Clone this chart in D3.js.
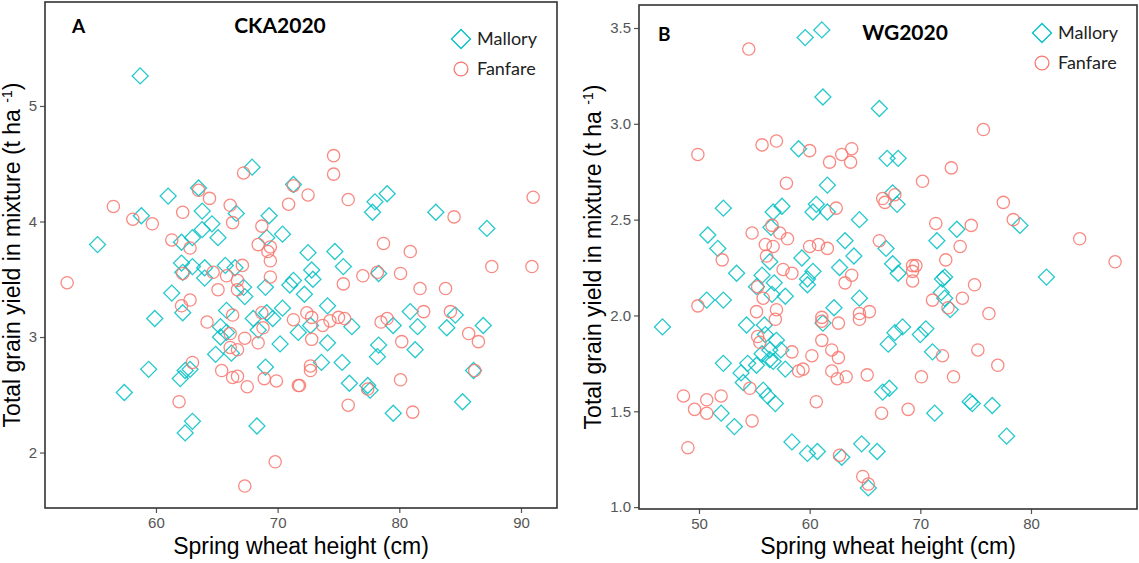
<!DOCTYPE html>
<html>
<head>
<meta charset="utf-8">
<script src="https://cdn.jsdelivr.net/npm/d3@7"></script>
<style>
  body { margin: 0; background: #fff; }
  svg { display: block; }
</style>
</head>
<body>
<div id="chart"></div>
<script>
// panel A (CKA2020): [height cm, yield t/ha]
var ckaMallory = [
  [58.7,5.26],[55.2,3.80],[61.0,4.22],[58.8,4.05],[63.5,4.29],[63.8,4.09],[67.9,4.47],[71.3,4.32],
  [69.3,4.05],[66.6,4.07],[64.6,3.98],[63.8,3.93],[65.1,3.86],[63.0,3.86],[62.1,3.82],[70.4,3.89],
  [69.1,3.86],[72.5,3.73],[62.1,3.64],[63.0,3.61],[64.0,3.60],[65.7,3.62],[66.5,3.60],[62.2,3.56],
  [72.8,3.58],[72.9,3.50],[71.3,3.49],[71.0,3.45],[64.0,3.51],[67.2,3.43],[69.0,3.43],[72.2,3.37],
  [61.3,3.38],[65.8,3.23],[67.3,3.35],[62.2,3.21],[59.9,3.16],[69.1,3.21],[69.6,3.16],[70.4,3.25],
  [68.0,3.16],[71.7,3.04],[72.7,3.10],[65.3,3.09],[65.8,3.04],[74.1,3.27],[68.4,3.06],[70.2,2.94],
  [65.3,3.00],[57.4,2.52],[59.4,2.72],[62.0,2.64],[62.4,2.71],[62.8,2.72],[63.0,2.27],[62.4,2.17],
  [68.3,2.23],[69.0,2.74],[64.9,2.85],[66.2,2.86],[76.1,3.09],[80.9,3.22],[79.5,3.10],[81.5,3.09],
  [84.6,3.19],[83.9,3.08],[86.9,3.10],[78.3,2.93],[78.2,2.83],[81.3,2.89],[73.6,2.78],[75.3,2.78],
  [75.9,2.60],[77.4,2.58],[77.6,2.54],[86.1,2.71],[85.2,2.44],[79.5,2.34],[78.0,4.17],[79.0,4.24],
  [77.8,4.08],[83.0,4.08],[87.2,3.94],[74.7,3.74],[75.4,3.61],[78.3,3.55],[74.1,2.95]
];
var ckaFanfare = [
  [52.7,3.47],[56.5,4.13],[58.1,4.02],[59.7,3.98],[62.2,4.08],[63.5,4.27],[64.4,4.20],[66.1,4.14],
  [66.3,3.99],[67.2,4.42],[61.3,3.84],[62.8,3.77],[68.7,3.96],[68.4,3.80],[69.4,3.78],[69.2,3.74],
  [69.4,3.66],[70.9,4.15],[71.3,4.31],[72.5,4.23],[67.1,3.62],[62.2,3.55],[64.7,3.56],[65.8,3.53],
  [66.7,3.49],[69.4,3.52],[65.1,3.41],[66.7,3.41],[62.8,3.32],[62.1,3.27],[66.3,3.19],[64.2,3.13],
  [68.8,3.08],[71.3,3.15],[72.4,3.21],[72.8,3.17],[73.7,3.10],[72.8,2.98],[67.3,2.99],[68.4,2.95],
  [66.1,2.91],[63.0,2.78],[66.1,3.03],[66.7,2.89],[65.4,2.71],[66.3,2.65],[66.7,2.66],[67.5,2.57],
  [68.9,2.64],[69.9,2.62],[61.9,2.44],[69.8,1.92],[67.3,1.71],[68.7,3.21],[71.7,2.58],[74.6,4.57],
  [74.6,4.41],[75.8,4.19],[84.5,4.04],[91.0,4.21],[78.7,3.81],[80.9,3.74],[87.6,3.61],[90.9,3.61],
  [77.0,3.53],[78.2,3.56],[80.1,3.55],[75.4,3.46],[81.7,3.42],[83.8,3.42],[74.3,3.14],[75.0,3.17],
  [75.5,3.16],[78.5,3.13],[79.0,3.16],[82.0,3.22],[84.2,3.22],[80.2,2.96],[85.7,3.03],[86.5,2.96],
  [72.7,2.75],[72.7,2.71],[71.8,2.58],[80.1,2.63],[86.2,2.71],[77.4,2.55],[75.8,2.41],[81.1,2.35]
];

// panel B (WG2020)
var wgMallory = [
  [59.6,3.45],[61.1,3.49],[61.2,3.14],[59.0,2.87],[61.6,2.68],[57.5,2.57],[52.2,2.56],[60.6,2.58],
  [60.3,2.54],[61.6,2.54],[56.7,2.54],[64.5,2.50],[50.8,2.42],[51.7,2.35],[56.5,2.46],[63.2,2.39],
  [64.0,2.31],[59.3,2.30],[56.4,2.28],[53.4,2.22],[55.7,2.21],[60.3,2.23],[62.7,2.25],[66.3,3.08],
  [67.0,2.82],[68.0,2.82],[67.5,2.64],[67.9,2.58],[73.3,2.45],[79.0,2.47],[71.5,2.39],[66.9,2.35],
  [67.5,2.27],[68.0,2.22],[72.2,2.20],[81.4,2.20],[59.8,2.19],[59.8,2.16],[55.2,2.15],[56.8,2.17],
  [56.6,2.11],[57.8,2.10],[50.7,2.08],[52.2,2.08],[64.5,2.09],[62.2,2.04],[54.3,1.95],[55.9,1.95],
  [56.0,1.90],[57.0,1.87],[56.4,1.82],[55.7,1.80],[57.4,1.82],[52.2,1.75],[54.4,1.75],[55.2,1.74],
  [56.4,1.77],[56.7,1.76],[57.8,1.72],[53.8,1.70],[54.0,1.65],[55.8,1.61],[56.2,1.58],[56.9,1.54],
  [46.7,1.94],[52.0,1.49],[53.2,1.42],[58.4,1.34],[59.8,1.28],[60.7,1.29],[62.9,1.26],[64.7,1.33],
  [66.1,1.29],[65.3,1.10],[61.2,1.96],[72.0,2.19],[71.9,2.12],[72.2,2.09],[72.7,2.03],[67.1,1.85],
  [67.7,1.91],[68.4,1.94],[70.0,1.90],[70.5,1.93],[71.1,1.81],[66.6,1.60],[67.2,1.62],[74.5,1.55],
  [74.7,1.54],[71.3,1.49],[76.5,1.53],[77.8,1.37]
];
var wgFanfare = [
  [54.5,3.39],[49.9,2.84],[55.7,2.89],[57.0,2.91],[60.0,2.86],[61.8,2.80],[62.9,2.84],[63.8,2.87],
  [63.7,2.80],[57.9,2.69],[62.4,2.56],[56.6,2.47],[57.3,2.43],[54.8,2.43],[58.0,2.40],[56.0,2.37],
  [56.7,2.36],[60.0,2.36],[60.8,2.37],[61.6,2.35],[52.1,2.29],[56.1,2.31],[57.6,2.24],[58.4,2.22],
  [63.8,2.21],[75.7,2.97],[72.8,2.77],[70.2,2.70],[66.6,2.61],[67.7,2.63],[66.8,2.59],[77.5,2.59],
  [78.4,2.50],[71.4,2.48],[74.6,2.47],[66.3,2.39],[73.6,2.36],[84.4,2.40],[87.6,2.28],[69.3,2.26],
  [69.6,2.26],[72.3,2.29],[63.2,2.17],[55.3,2.15],[55.8,2.09],[49.9,2.05],[57.0,2.03],[55.2,2.02],
  [61.1,1.99],[64.5,2.01],[65.4,2.02],[56.9,1.98],[61.1,1.97],[62.6,1.96],[64.5,1.98],[55.3,1.89],
  [55.5,1.86],[61.1,1.87],[58.4,1.81],[60.2,1.79],[62.0,1.82],[62.6,1.78],[62.0,1.71],[62.5,1.67],
  [63.3,1.68],[65.2,1.69],[59.0,1.71],[59.4,1.72],[54.6,1.62],[48.6,1.58],[50.7,1.56],[52.0,1.58],
  [49.6,1.51],[50.7,1.49],[54.8,1.45],[60.6,1.55],[49.0,1.31],[62.7,1.27],[64.8,1.16],[65.3,1.12],
  [69.3,2.18],[69.3,2.23],[71.1,2.08],[72.5,2.04],[73.8,2.09],[74.9,2.16],[76.2,2.01],[75.2,1.82],
  [72.0,1.79],[77.0,1.74],[70.1,1.68],[73.0,1.68],[66.5,1.49],[68.9,1.51]
];

var ckaXTicks = [60, 70, 80, 90];
var ckaYTicks = [2, 3, 4, 5];
var wgXTicks = [50, 60, 70, 80];
var wgYTicks = [1.0, 1.5, 2.0, 2.5, 3.0, 3.5];
var varieties = ["Mallory", "Fanfare"];

const width = 1139, height = 563;
const teal = "#00BFC4", salmon = "#F8766D";

var svg = d3.select("#chart").append("svg")
    .attr("width", width)
    .attr("height", height);

var diamond = d3.symbol().type(d3.symbolSquare).size(128)();
var circle = d3.symbol().type(d3.symbolCircle).size(118)();

function drawPanel(p) {
    var x = d3.scaleLinear().domain(p.xDomain).range([p.box.left, p.box.right]);
    var y = d3.scaleLinear().domain(p.yDomain).range([p.box.bottom, p.box.top]);

    var g = svg.append("g").classed("panel", true);

    // axes
    var xAxis = g.append("g")
        .attr("transform", `translate(0, ${p.box.bottom})`)
        .call(d3.axisBottom(x).tickValues(p.xTicks).tickSize(5).tickPadding(4));
    var yAxis = g.append("g")
        .attr("transform", `translate(${p.box.left}, 0)`)
        .call(d3.axisLeft(y).tickValues(p.yTicks).tickSize(5).tickPadding(3)
            .tickFormat(p.yFormat));
    [xAxis, yAxis].forEach(a => {
        a.select(".domain").remove();
        a.selectAll(".tick line").attr("stroke", "#555").attr("stroke-width", 1.2);
        a.selectAll(".tick text")
            .attr("fill", "#555")
            .style("font-family", "'Liberation Sans', Arial, sans-serif")
            .style("font-size", "15px");
    });

    // points
    g.selectAll("path.mallory")
        .data(p.mallory)
        .enter()
        .append("path")
        .classed("mallory", true)
        .attr("d", diamond)
        .attr("transform", d => `translate(${x(d[0])},${y(d[1])}) rotate(45)`)
        .attr("fill", "none")
        .attr("stroke", teal)
        .attr("stroke-width", 1.3)
        .attr("stroke-opacity", 0.85);

    g.selectAll("path.fanfare")
        .data(p.fanfare)
        .enter()
        .append("path")
        .classed("fanfare", true)
        .attr("d", circle)
        .attr("transform", d => `translate(${x(d[0])},${y(d[1])})`)
        .attr("fill", "none")
        .attr("stroke", salmon)
        .attr("stroke-width", 1.3)
        .attr("stroke-opacity", 0.85);

    // border
    g.append("rect")
        .attr("x", p.box.left)
        .attr("y", p.box.top)
        .attr("width", p.box.right - p.box.left)
        .attr("height", p.box.bottom - p.box.top)
        .attr("fill", "none")
        .attr("stroke", "#333")
        .attr("stroke-width", 1.6);

    // axis titles
    g.append("text")
        .attr("x", (p.box.left + p.box.right) / 2)
        .attr("y", 554)
        .attr("text-anchor", "middle")
        .style("font-family", "'Liberation Sans', Arial, sans-serif")
        .style("font-size", "23px")
        .text("Spring wheat height (cm)");

    var yt = g.append("text")
        .attr("transform", `translate(${p.yTitleX}, ${(p.box.top + p.box.bottom) / 2}) rotate(-90)`)
        .attr("text-anchor", "middle")
        .style("font-family", "'Liberation Sans', Arial, sans-serif")
        .style("font-size", "23px");
    yt.append("tspan").text("Total grain yield in mixture (t ha ");
    yt.append("tspan").attr("dy", -8).style("font-size", "14px").text("-1");
    yt.append("tspan").attr("dy", 8).text(")");

    // panel letter and site
    g.append("text")
        .attr("x", p.letterX).attr("y", p.letterY)
        .style("font-family", "Lato, 'Open Sans', sans-serif")
        .style("font-weight", "bold")
        .style("font-size", "19px")
        .text(p.letter);
    g.append("text")
        .attr("x", p.siteX).attr("y", p.siteY)
        .attr("text-anchor", "middle")
        .style("font-family", "Lato, 'Open Sans', sans-serif")
        .style("font-weight", "bold")
        .style("font-size", "21px")
        .text(p.site);

    // legend
    var lg = g.append("g").attr("transform", `translate(${p.legendX}, ${p.legendY})`);
    var items = lg.selectAll("g")
        .data(varieties)
        .enter()
        .append("g")
        .attr("transform", (d, i) => `translate(0, ${i * 30})`);
    items.append("path")
        .attr("d", (d, i) => i === 0
            ? d3.symbol().type(d3.symbolSquare).size(180)()
            : d3.symbol().type(d3.symbolCircle).size(150)())
        .attr("transform", (d, i) => i === 0 ? "rotate(45)" : null)
        .attr("fill", "none")
        .attr("stroke", (d, i) => i === 0 ? teal : salmon)
        .attr("stroke-width", 1.3);
    items.append("text")
        .attr("x", 16)
        .attr("y", 6)
        .style("font-family", "Lato, 'Open Sans', sans-serif")
        .style("font-size", "18px")
        .attr("fill", "#222")
        .text(d => d);
}

drawPanel({
    box: { left: 45, right: 557, top: 2, bottom: 508 },
    xDomain: [50.88, 92.96], yDomain: [1.52, 5.90],
    xTicks: ckaXTicks, yTicks: ckaYTicks, yFormat: d3.format("d"),
    mallory: ckaMallory, fanfare: ckaFanfare,
    yTitleX: 20,
    letter: "A", letterX: 72, letterY: 33,
    site: "CKA2020", siteX: 280, siteY: 33,
    legendX: 461, legendY: 39
});

drawPanel({
    box: { left: 639, right: 1137, top: 5, bottom: 509 },
    xDomain: [44.58, 89.58], yDomain: [0.99, 3.62],
    xTicks: wgXTicks, yTicks: wgYTicks, yFormat: d3.format(".1f"),
    mallory: wgMallory, fanfare: wgFanfare,
    yTitleX: 601,
    letter: "B", letterX: 658, letterY: 41,
    site: "WG2020", siteX: 905, siteY: 40,
    legendX: 1042, legendY: 33
});
</script>
</body>
</html>
